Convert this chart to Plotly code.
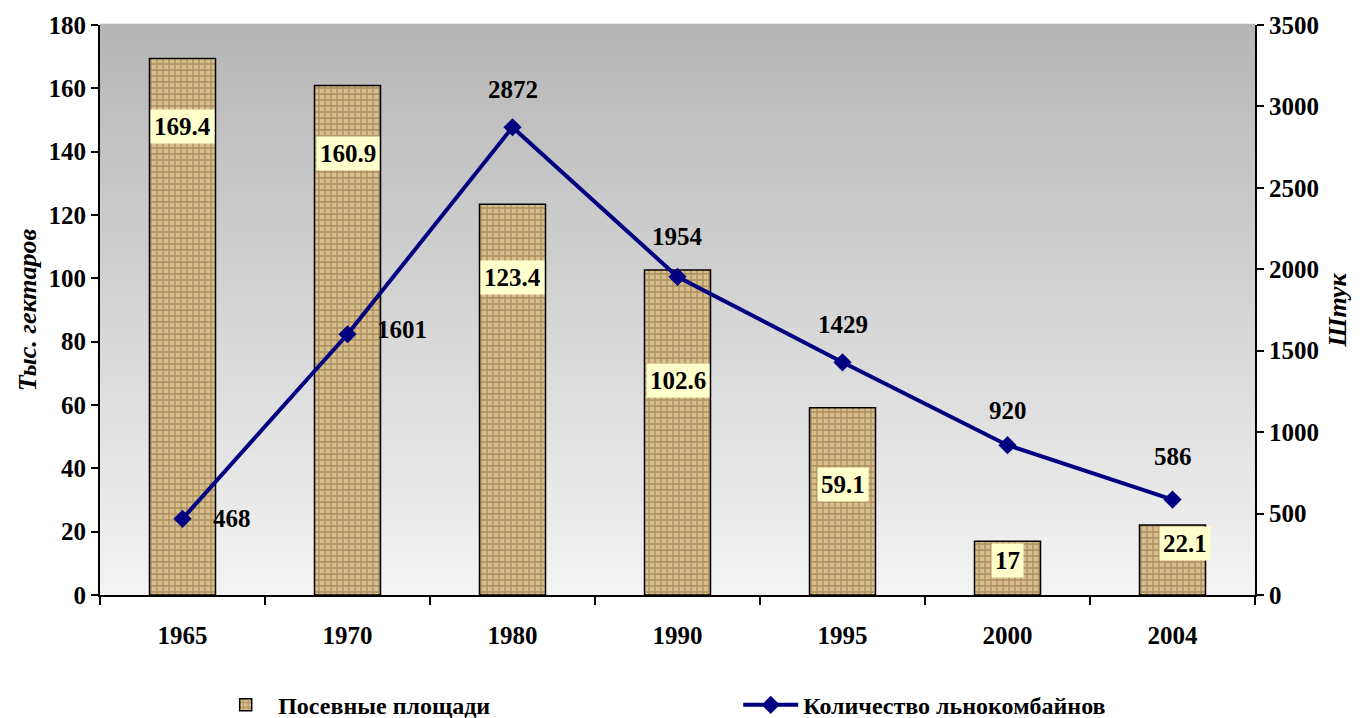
"""
Посевные площади льна (столбцы) + количество льнокомбайнов (линия).
"""
import plotly.graph_objects as go

years = ['1965', '1970', '1980', '1990', '1995', '2000', '2004']
area = [169.4, 160.9, 123.4, 102.6, 59.1, 17, 22.1]          # тыс. гектаров
combines = [468, 1601, 2872, 1954, 1429, 920, 586]           # штук

FONT = 'Liberation Serif'

# где стоят подписи (сдвиг в пикселях от вершины столбца / точки)
bar_lbl_dy = [-68, -68, -73, -110, -77, -19, -18]
bar_lbl_dx = [0, 0, 0, 0, 0, 0, 12]
line_lbl_dx = [49, 54, 0, 0, 0, 0, 0]
line_lbl_dy = [0, 5, 38, 40, 38, 35, 43]

fig = go.Figure()

fig.add_trace(go.Bar(
    name='Посевные площади',
    x=years, y=area,
    marker=dict(
        color='#c9ab74',
        line=dict(color='black', width=1.5),
        pattern=dict(shape='+', fgcolor='#7d5f33', bgcolor='#d8be8b',
                     size=6, solidity=0.4),
    ),
    width=0.4,
))

fig.add_trace(go.Scatter(
    name='Количество льнокомбайнов',
    x=years, y=combines, yaxis='y2',
    mode='lines+markers',
    line=dict(color='#000080', width=4),
    marker=dict(symbol='diamond', size=14, color='#000080'),
))

# на категориальной оси подписи ставим по индексу категории
annos = []
for i, v in enumerate(area):
    annos.append(dict(
        x=i, y=v, xref='x', yref='y', text=f'{v:g}', showarrow=False,
        xshift=bar_lbl_dx[i], yshift=bar_lbl_dy[i],
        bgcolor='#ffffcc', borderpad=3,
        font=dict(family=FONT, size=25, color='black', weight='bold'),
    ))
for i, v in enumerate(combines):
    annos.append(dict(
        x=i, y=v, xref='x', yref='y2', text=str(v), showarrow=False,
        xshift=line_lbl_dx[i], yshift=line_lbl_dy[i],
        font=dict(family=FONT, size=25, color='black', weight='bold'),
    ))

# серый градиент фона
n = 90
c0, c1 = (182, 182, 182), (243, 243, 243)
shapes = []
for k in range(n):
    t = k / (n - 1)
    c = tuple(round(c0[j] + (c1[j] - c0[j]) * t) for j in range(3))
    shapes.append(dict(
        type='rect', xref='paper', yref='paper', layer='below',
        x0=0, x1=1, y0=1 - (k + 1) / n, y1=1 - k / n + 0.002,
        line=dict(width=0), fillcolor=f'rgb{c}',
    ))

tick_font = dict(family=FONT, size=25, weight='bold')
title_font = dict(family=FONT, size=26, weight='bold', style='italic')

# страница имеет отступ 8px у body -> фигура 1352x710
fig.update_layout(
    width=1352, height=710,
    margin=dict(l=92, r=105, t=17, b=123),
    paper_bgcolor='white',
    plot_bgcolor='#efefef',
    font=dict(family=FONT, size=25, color='black'),
    showlegend=True,
    legend=dict(
        orientation='h', x=0.098, xanchor='left',
        yref='container', y=0.018, yanchor='middle',
        entrywidth=455, entrywidthmode='pixels',
        font=dict(family=FONT, size=24, weight='bold'),
        itemwidth=55,
    ),
    annotations=annos,
    shapes=shapes,
    xaxis=dict(
        type='category', range=[-0.5, len(years) - 0.5], automargin=False,
        showline=True, linecolor='black', linewidth=2,
        ticks='outside', ticklen=8, tickwidth=2, tickcolor='black',
        tickson='boundaries', ticklabelstandoff=17,
        tickfont=tick_font, showgrid=False,
    ),
    yaxis=dict(
        range=[0, 180], dtick=20, automargin=False,
        showline=True, linecolor='black', linewidth=2,
        ticks='outside', ticklen=7, tickwidth=2, tickcolor='black',
        showgrid=False, zeroline=False, tickfont=tick_font,
        title=dict(text='Тыс. гектаров', standoff=4, font=title_font),
    ),
    yaxis2=dict(
        range=[0, 3500], dtick=500, overlaying='y', side='right', automargin=False,
        showline=True, linecolor='black', linewidth=2,
        ticks='outside', ticklen=7, tickwidth=2, tickcolor='black',
        showgrid=False, zeroline=False, tickfont=tick_font,
        title=dict(text='Штук', standoff=10, font=title_font),
    ),
)

fig.write_html('out.html')
